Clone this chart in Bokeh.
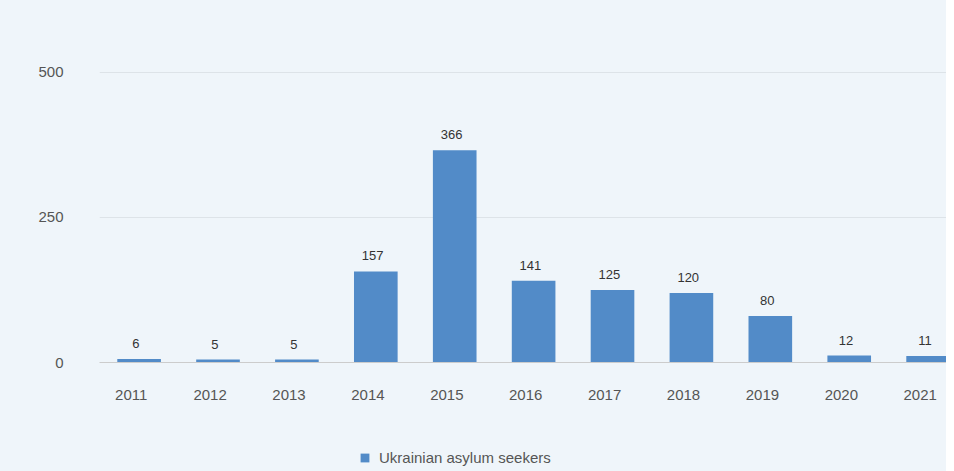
from bokeh.plotting import figure
from bokeh.layouts import column
from bokeh.models import ColumnDataSource, Legend, LegendItem, Range1d, FixedTicker
from bokeh.transform import dodge
from bokeh.embed import file_html
from bokeh.resources import INLINE

years = [2011, 2012, 2013, 2014, 2015, 2016, 2017, 2018, 2019, 2020, 2021]
seekers = [6, 5, 5, 157, 366, 141, 125, 120, 80, 12, 11]
y_ticks = [0, 250, 500]
series_name = "Ukrainian asylum seekers"

BG = "#eff5fa"
BAR = "#528bc8"
TXT = "#555555"
FONT = "Liberation Sans"

src = ColumnDataSource(dict(x=years, y=seekers, lab=[str(v) for v in seekers]))

p = figure(x_range=Range1d(2010.598, 2021.333), y_range=Range1d(0, 586), width=946, height=410,
           output_backend="svg", toolbar_location=None,
           background_fill_color=BG, border_fill_color=BG,
           min_border_left=99, min_border_right=0, min_border_top=22, min_border_bottom=48)
p.outline_line_color = None

r = p.vbar(x=dodge("x", 0.1), top="y", width=0.553, source=src, fill_color=BAR, line_color=None)
p.text(x=dodge("x", 0.06), y="y", text="lab", source=src, text_align="center", text_baseline="bottom",
       y_offset=-11, text_font_size="13px", text_color="#333333", text_font={"value": FONT})

p.xgrid.grid_line_color = None
p.ygrid.grid_line_color = "#dde3e8"
p.ygrid.ticker = FixedTicker(ticks=y_ticks)

p.yaxis.ticker = FixedTicker(ticks=y_ticks)
p.yaxis.axis_line_color = None
p.yaxis.major_tick_line_color = None
p.yaxis.minor_tick_line_color = None
p.yaxis.major_label_standoff = 30
p.yaxis.major_label_text_font_size = "15px"
p.yaxis.major_label_text_color = TXT
p.yaxis.major_label_text_font = FONT

p.xaxis.ticker = FixedTicker(ticks=years)
p.xaxis.axis_line_color = "#cccccc"
p.xaxis.major_tick_line_color = None
p.xaxis.minor_tick_line_color = None
p.xaxis.major_label_standoff = 21
p.xaxis.major_label_text_font_size = "15px"
p.xaxis.major_label_text_color = TXT
p.xaxis.major_label_text_font = FONT

# legend strip below the chart
lg = figure(width=946, height=61, x_range=Range1d(0, 1), y_range=Range1d(0, 1),
            output_backend="svg", toolbar_location=None,
            background_fill_color=BG, border_fill_color=BG,
            min_border_left=0, min_border_right=0, min_border_top=0, min_border_bottom=0)
lg.axis.visible = False
lg.grid.visible = False
lg.outline_line_color = None
dummy = lg.vbar(x=[-1], top=[-1], width=0.1, fill_color=BAR, line_color=None)
legend = Legend(items=[LegendItem(label=series_name, renderers=[dummy])], location=(260, 5),
                orientation="horizontal", background_fill_alpha=0,
                border_line_color=None, label_text_font_size="15px", label_text_color=TXT,
                label_text_font=FONT, glyph_width=11, glyph_height=11, label_standoff=9,
                margin=0, padding=4)
lg.add_layout(legend, "center")

layout = column(p, lg, spacing=0, styles={"background-color": BG})
open("out.html", "w").write(file_html(layout, INLINE))
